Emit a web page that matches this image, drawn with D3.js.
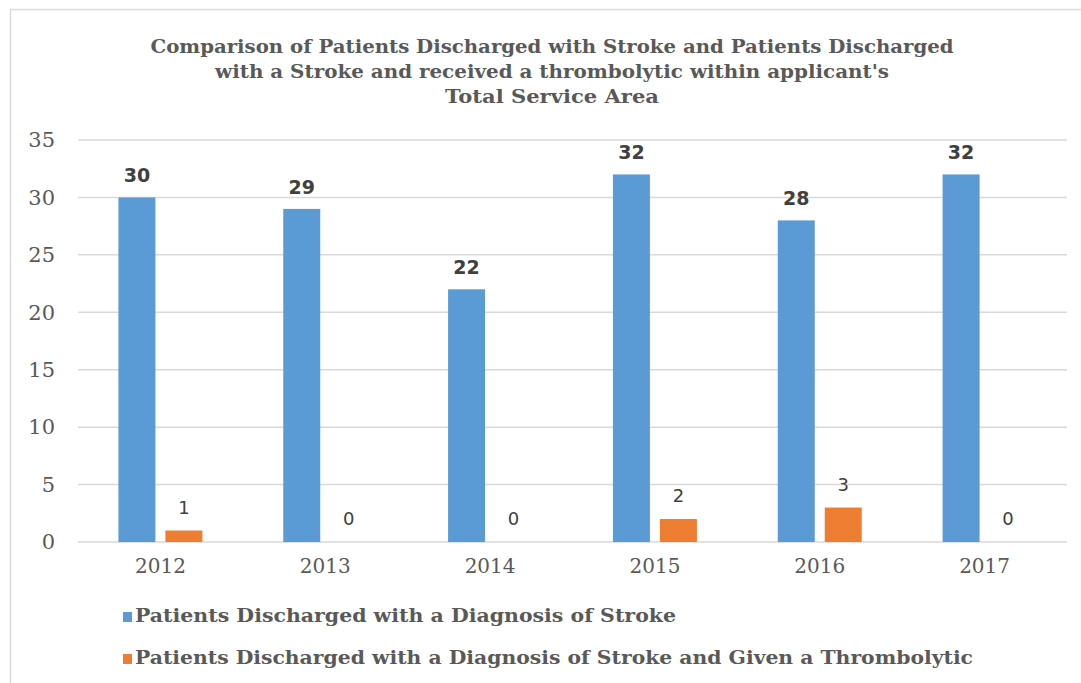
<!DOCTYPE html>
<html>
<head>
<meta charset="utf-8">
<script src="https://cdn.jsdelivr.net/npm/d3@7"></script>
<style>
  body { margin: 0; background: #fff; }
  svg { display: block; }
</style>
</head>
<body>
<div id="chart"></div>
<script>
// Chart data
var years = ["2012", "2013", "2014", "2015", "2016", "2017"];
var strokeVals = [30, 29, 22, 32, 28, 32];
var thromboVals = [1, 0, 0, 2, 3, 0];
var seriesNames = [
    "Patients Discharged with a Diagnosis of Stroke",
    "Patients Discharged with a Diagnosis of Stroke and Given a Thrombolytic"
];
var seriesColors = ["#5b9bd5", "#ed7d31"];
var yTicks = [0, 5, 10, 15, 20, 25, 30, 35];
var titleLines = [
    "Comparison of Patients Discharged with Stroke and Patients Discharged",
    "with a Stroke and received a thrombolytic within applicant's",
    "Total Service Area"
];

var svgWidth = 1081, svgHeight = 683;
var margin = { top: 140, left: 78, right: 14, bottom: 141 };
var chartWidth = svgWidth - margin.left - margin.right;
var chartHeight = svgHeight - margin.top - margin.bottom;

var svg = d3.select("#chart").append("svg")
    .attr("width", svgWidth)
    .attr("height", svgHeight);

// outer chart border
svg.append("rect")
    .attr("x", 10.5).attr("y", 9.5)
    .attr("width", 1100).attr("height", 700)
    .attr("fill", "none")
    .attr("stroke", "#d9d9d9")
    .attr("stroke-width", 1.5);

// Title
var titleWidths = [803, 674, 214];
svg.append("g").selectAll("text")
    .data(titleLines)
    .enter().append("text")
    .attr("x", 552)
    .attr("y", (d, i) => 53 + i * 25)
    .attr("text-anchor", "middle")
    .attr("font-family", "DejaVu Serif")
    .attr("font-weight", "bold")
    .attr("font-size", 19)
    .attr("fill", "#595959")
    .attr("textLength", (d, i) => titleWidths[i])
    .attr("lengthAdjust", "spacingAndGlyphs")
    .text(d => d);

var chartGroup = svg.append("g")
    .attr("transform", `translate(${margin.left}, ${margin.top})`);

var xScale = d3.scaleBand().domain(years).range([0, chartWidth]);
var yScale = d3.scaleLinear().domain([0, 35]).range([chartHeight, 0]);

// gridlines
chartGroup.append("g").selectAll("line")
    .data(yTicks)
    .enter().append("line")
    .attr("x1", 0).attr("x2", chartWidth)
    .attr("y1", d => yScale(d)).attr("y2", d => yScale(d))
    .attr("stroke", "#d9d9d9")
    .attr("stroke-width", 1.5);

// y axis labels
var leftAxis = d3.axisLeft(yScale).tickValues(yTicks).tickSize(0).tickPadding(23);
var yAxisG = chartGroup.append("g").call(leftAxis);
yAxisG.select(".domain").remove();
yAxisG.selectAll("text")
    .attr("font-family", "DejaVu Serif")
    .attr("font-size", 21)
    .attr("fill", "#595959");

// x axis labels
var bottomAxis = d3.axisBottom(xScale).tickSize(0).tickPadding(17);
var xAxisG = chartGroup.append("g")
    .attr("transform", `translate(0, ${chartHeight})`)
    .call(bottomAxis);
xAxisG.select(".domain").remove();
xAxisG.selectAll("text")
    .attr("font-family", "DejaVu Serif")
    .attr("font-size", 20)
    .attr("fill", "#595959");

var barW = 37, gap = 10;
var allSeries = [strokeVals, thromboVals];

allSeries.forEach(function(vals, s) {
    var offset = s === 0 ? -(gap / 2 + barW) : gap / 2;
    var rows = years.map((y, i) => ({ year: y, value: vals[i] }));

    chartGroup.append("g").selectAll("rect")
        .data(rows)
        .enter().append("rect")
        .attr("x", d => xScale(d.year) + xScale.bandwidth() / 2 + offset)
        .attr("y", d => yScale(d.value))
        .attr("width", barW)
        .attr("height", d => chartHeight - yScale(d.value))
        .attr("fill", seriesColors[s]);

    chartGroup.append("g").selectAll("text")
        .data(rows)
        .enter().append("text")
        .attr("x", d => xScale(d.year) + xScale.bandwidth() / 2 + offset + barW / 2)
        .attr("y", d => yScale(d.value) - (s === 0 ? 15 : 17))
        .attr("text-anchor", "middle")
        .attr("font-family", "DejaVu Sans")
        .attr("font-weight", s === 0 ? "bold" : "normal")
        .attr("font-size", s === 0 ? 19 : 18)
        .attr("fill", "#404040")
        .text(d => d.value);
});

// legend
var legendWidths = [541, 838];
var legend = svg.append("g").selectAll("g")
    .data(seriesNames)
    .enter().append("g")
    .attr("transform", (d, i) => `translate(123, ${612 + i * 42})`);
legend.append("rect")
    .attr("width", 9).attr("height", 10)
    .attr("fill", (d, i) => seriesColors[i]);
legend.append("text")
    .attr("x", 12).attr("y", 10)
    .attr("font-family", "DejaVu Serif")
    .attr("font-weight", "bold")
    .attr("font-size", 19)
    .attr("fill", "#595959")
    .attr("textLength", (d, i) => legendWidths[i])
    .attr("lengthAdjust", "spacingAndGlyphs")
    .text(d => d);
</script>
</body>
</html>
